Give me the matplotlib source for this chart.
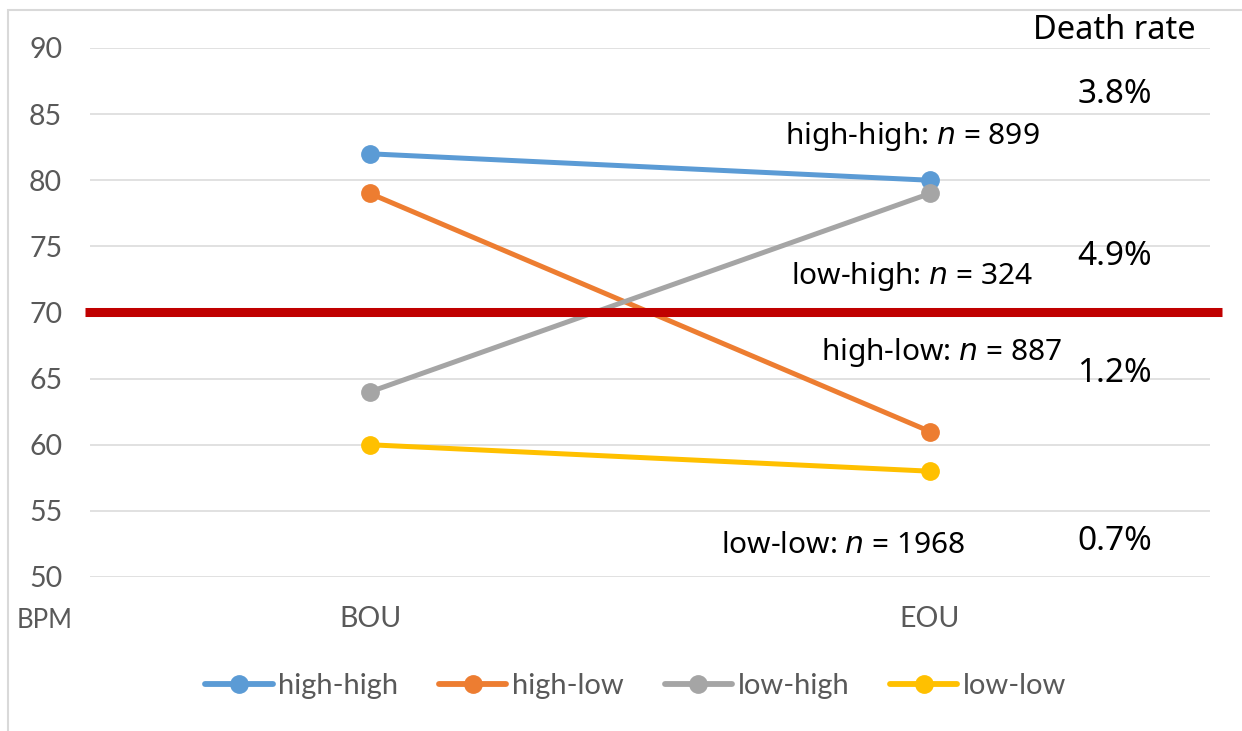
import matplotlib.pyplot as plt
from matplotlib.lines import Line2D
from matplotlib.patches import Rectangle

# Data
groups = ["high-high", "high-low", "low-high", "low-low"]
timepoints = ["BOU", "EOU"]
bou = [82, 79, 64, 60]
eou = [80, 61, 79, 58]
colors = ["#5B9BD5", "#ED7D31", "#A5A5A5", "#FFC000"]
counts = [899, 887, 324, 1968]
death_rates = ["3.8%", "1.2%", "4.9%", "0.7%"]
threshold = 70
yticks = [50, 55, 60, 65, 70, 75, 80, 85, 90]

# annotation placement (data coords)
n_pos = {"high-high": (0.968, 83.3), "high-low": (1.02, 67.0),
         "low-high": (0.968, 72.7), "low-low": (0.845, 52.4)}
rate_y = {"high-high": 86.5, "high-low": 65.4, "low-high": 74.2, "low-low": 52.7}

fig = plt.figure(figsize=(12.42, 7.31), dpi=100)
ax = fig.add_axes([90/1242, 1-577/731, 1120/1242, 529/731])

for g, a, b, c in zip(groups, bou, eou, colors):
    ax.plot([0, 1], [a, b], color=c, lw=3.6, marker="o", ms=12.5,
            solid_capstyle="round", zorder=3)

# threshold line, extends past the plot area
ax.plot([-0.509, 1.521], [threshold, threshold], color="#C00000", lw=6.5,
        clip_on=False, zorder=4, solid_capstyle="butt")

ax.set_xlim(-0.5, 1.5)
ax.set_ylim(50, 90)
ax.set_yticks(yticks)
ax.set_xticks([0, 1])
ax.set_xticklabels(timepoints)
ax.grid(axis="y", color="#D9D9D9", lw=1.1)
ax.set_axisbelow(True)
for s in ax.spines.values():
    s.set_visible(False)
ax.tick_params(length=0, colors="#595959", labelsize=20.5)
ax.tick_params(axis="y", pad=20)
ax.tick_params(axis="x", pad=21)
for lab in ax.get_xticklabels() + ax.get_yticklabels():
    lab.set_family("Lato")

fig.text(45/1242, 1-620/731, "BPM", ha="center", va="center",
         color="#595959", fontsize=18.5, family="Lato")

# annotations
for g, n in zip(groups, counts):
    x, y = n_pos[g]
    ax.text(x, y, g + ": $\\mathit{n}$ = " + str(n), ha="center", va="center",
            fontsize=21.5, family="Noto Sans", color="black", zorder=5)
for g, r in zip(groups, death_rates):
    ax.text(1.33, rate_y[g], r, ha="center", va="center",
            fontsize=24, family="Noto Sans", color="black", clip_on=False)
ax.text(1.33, 91.3, "Death rate", ha="center", va="center",
        fontsize=23.5, family="Noto Sans", color="black", clip_on=False)

# legend
handles = [Line2D([], [], color=c, lw=4.2, marker="o", ms=12.5,
                  solid_capstyle="round") for c in colors]
leg = fig.legend(handles, groups, loc="center", bbox_to_anchor=(636/1242, 1-686/731),
                 ncol=4, frameon=False, handlelength=2.3, handletextpad=0.2,
                 columnspacing=1.4, prop={"family": "Lato", "size": 21})
for t in leg.get_texts():
    t.set_color("#595959")

# outer chart frame (cropped)
fig.patches.append(Rectangle((8/1242, -0.05), 1.1, 1-10/731 + 0.05,
                             transform=fig.transFigure, fill=False,
                             edgecolor="#D9D9D9", lw=1.5))

fig.savefig("out.png", dpi=100)
